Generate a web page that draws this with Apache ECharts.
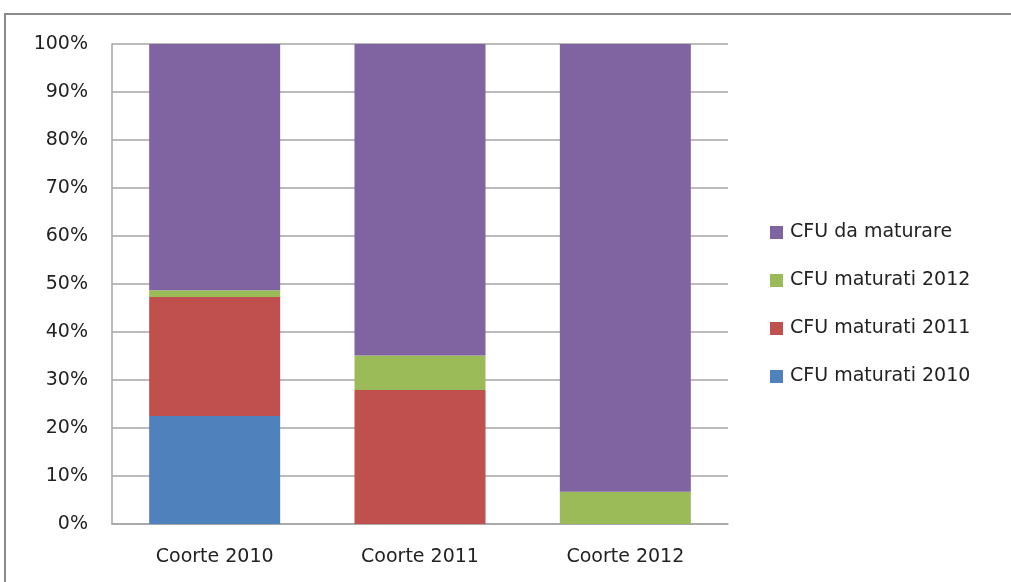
<!DOCTYPE html>
<html>
<head>
<meta charset="utf-8">
<script src="https://cdn.jsdelivr.net/npm/echarts@6/dist/echarts.min.js"></script>
<style>
  html, body { margin: 0; padding: 0; background: #fff; }
  #chart { width: 1011px; height: 582px; }
</style>
</head>
<body>
<div id="chart"></div>
<script>
// dati (percentuali)
var categorie = ["Coorte 2010", "Coorte 2011", "Coorte 2012"];
var maturati2010 = [22.5, 0, 0];
var maturati2011 = [24.8, 27.9, 0];
var maturati2012 = [1.4, 7.2, 6.7];
var daMaturare = [51.3, 64.9, 93.3];
var legenda = ["CFU da maturare", "CFU maturati 2012", "CFU maturati 2011", "CFU maturati 2010"];

var font = "DejaVu Sans";
var lineColor = "#a5a5a5";
var myChart = echarts.init(document.getElementById("chart"));

function serie(nome, dati, colore) {
    return {
        name: nome,
        type: "bar",
        stack: "tot",
        data: dati,
        barWidth: 131,
        itemStyle: { color: colore },
        emphasis: { disabled: true }
    };
}

var option = {
    animation: false,
    textStyle: { fontFamily: font },
    graphic: [{
        type: "rect",
        shape: { x: 5, y: 14, width: 1200, height: 800 },
        style: { fill: "none", stroke: "#8a8a8a", lineWidth: 2 },
        silent: true
    }],
    grid: { left: 112, right: 283, top: 44, bottom: 58 },
    legend: {
        orient: "vertical",
        left: 765,
        top: 218,
        itemWidth: 13,
        itemHeight: 13,
        itemGap: 29,
        icon: "rect",
        data: legenda,
        textStyle: { fontFamily: font, fontSize: 19, color: "#222", padding: [0, 0, 0, 2] }
    },
    xAxis: {
        type: "category",
        data: categorie,
        axisLine: { lineStyle: { color: lineColor, width: 1.5 } },
        axisTick: { show: false },
        axisLabel: { fontFamily: font, fontSize: 19, color: "#222", margin: 24 }
    },
    yAxis: {
        type: "value",
        min: 0,
        max: 100,
        interval: 10,
        axisLine: { show: true, lineStyle: { color: lineColor, width: 1.5 } },
        axisTick: { show: false },
        splitLine: { lineStyle: { color: lineColor, width: 1.5 } },
        axisLabel: { fontFamily: font, fontSize: 19, color: "#222", margin: 24, formatter: "{value}%" }
    },
    series: [
        serie("CFU maturati 2010", maturati2010, "#4F81BD"),
        serie("CFU maturati 2011", maturati2011, "#C0504D"),
        serie("CFU maturati 2012", maturati2012, "#9BBB59"),
        serie("CFU da maturare", daMaturare, "#8064A2")
    ]
};
myChart.setOption(option);
</script>
</body>
</html>
